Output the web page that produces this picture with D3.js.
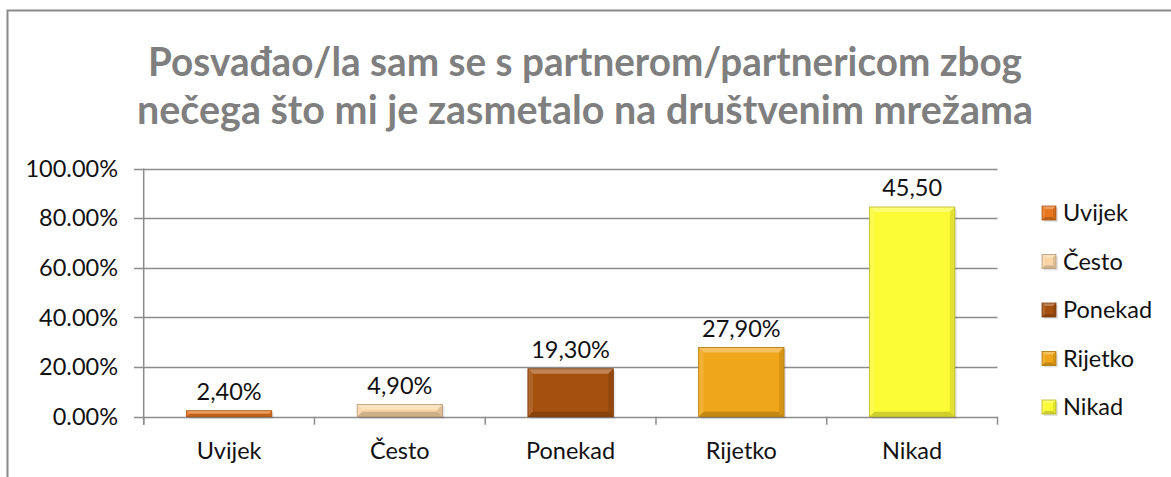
<!DOCTYPE html>
<html>
<head>
<meta charset="utf-8">
<script src="https://d3js.org/d3.v7.min.js"></script>
<style>
  body { margin: 0; background: #fff; }
  svg { display: block; font-family: Lato, "Open Sans", sans-serif; }
</style>
</head>
<body>
<div id="chart"></div>
<script>
const categories = ["Uvijek", "Često", "Ponekad", "Rijetko", "Nikad"];
const values = [2.4, 4.9, 19.3, 27.9, 84.5];
const labels = ["2,40%", "4,90%", "19,30%", "27,90%", "45,50"];
const colors = ["#E8761F", "#F9D5A6", "#A5500F", "#EFA619", "#FCFC36"];
const yTicks = [0, 20, 40, 60, 80, 100];
const titleLines = [
  "Posvađao/la sam se s partnerom/partnericom zbog",
  "nečega što mi je zasmetalo na društvenim mrežama"
];

const W = 1171, H = 477;
const svg = d3.select("#chart").append("svg")
  .attr("width", W)
  .attr("height", H);

// outer frame (only top + left visible in the picture)
svg.append("path")
  .attr("d", `M7.5,${H} V10.5 H${W}`)
  .attr("fill", "none")
  .attr("stroke", "#8a8a8a")
  .attr("stroke-width", 2);

// title: Calibri-like narrow look, so squeeze a larger font to the measured widths
const titleWidths = [874, 896];
const titleY = [62, 110];
titleLines.forEach((t, i) => {
  svg.append("text")
    .attr("x", 585)
    .attr("y", titleY[i])
    .attr("dy", "0.36em")
    .attr("text-anchor", "middle")
    .attr("fill", "#7f7f7f")
    .attr("font-weight", "bold")
    .attr("font-size", 40)
    .attr("textLength", titleWidths[i])
    .attr("lengthAdjust", "spacingAndGlyphs")
    .text(t);
});

const x = d3.scaleBand().domain(categories).range([143.7, 997.5]).paddingInner(0.5).paddingOuter(0.25);
const y = d3.scaleLinear().domain([0, 100]).range([416.7, 168.5]);
const fs = 23.5;

// gridlines
svg.append("g")
  .selectAll("line")
  .data(yTicks)
  .join("line")
  .attr("x1", 134).attr("x2", 997.5)
  .attr("y1", d => Math.round(y(d)) + 0.5)
  .attr("y2", d => Math.round(y(d)) + 0.5)
  .attr("stroke", "#8c8c8c")
  .attr("stroke-width", 1.5);

// y axis line
svg.append("line")
  .attr("x1", 143.7).attr("x2", 143.7)
  .attr("y1", y(100)).attr("y2", y(0) + 8)
  .attr("stroke", "#8c8c8c").attr("stroke-width", 1.5);

// y tick labels
svg.append("g")
  .selectAll("text")
  .data(yTicks)
  .join("text")
  .attr("x", 118)
  .attr("y", d => y(d))
  .attr("dy", "0.35em")
  .attr("text-anchor", "end")
  .attr("font-size", fs)
  .attr("fill", "#111")
  .text(d => d3.format(".2f")(d) + "%");

// category ticks
const step = x.step();
const bounds = d3.range(categories.length + 1).map(i => 143.7 + i * step);
svg.append("g")
  .selectAll("line")
  .data(bounds)
  .join("line")
  .attr("x1", d => d).attr("x2", d => d)
  .attr("y1", y(0)).attr("y2", y(0) + 8)
  .attr("stroke", "#8c8c8c").attr("stroke-width", 1.5);

// category labels
svg.append("g")
  .selectAll("text")
  .data(categories)
  .join("text")
  .attr("x", d => x(d) + x.bandwidth() / 2)
  .attr("y", 451)
  .attr("dy", "0.35em")
  .attr("text-anchor", "middle")
  .attr("font-size", fs)
  .attr("fill", "#111")
  .text(d => d);

// bevelled bar helper
function bevel(g, x0, y0, w, h, c, b0) {
  const b = Math.min(b0, h / 2, w / 2);
  const base = d3.color(c);
  g.append("rect").attr("x", x0 + 2).attr("y", y0 + 2).attr("width", w).attr("height", h)
    .attr("fill", "#000").attr("opacity", 0.1);
  g.append("rect").attr("x", x0).attr("y", y0).attr("width", w).attr("height", h).attr("fill", c);
  const x1 = x0 + w, y1 = y0 + h;
  const poly = (pts, col) => g.append("polygon").attr("points", pts.map(p => p.join(",")).join(" ")).attr("fill", col);
  poly([[x0, y0], [x1, y0], [x1 - b, y0 + b], [x0 + b, y0 + b]], d3.interpolateRgb(c, "#fff")(0.3));
  poly([[x0, y0], [x0 + b, y0 + b], [x0 + b, y1 - b], [x0, y1]], d3.interpolateRgb(c, "#fff")(0.12));
  poly([[x1, y0], [x1, y1], [x1 - b, y1 - b], [x1 - b, y0 + b]], base.darker(0.3));
  poly([[x0, y1], [x0 + b, y1 - b], [x1 - b, y1 - b], [x1, y1]], base.darker(0.55));
  g.append("rect").attr("x", x0).attr("y", y0).attr("width", w).attr("height", h)
    .attr("fill", "none").attr("stroke", base.darker(0.9)).attr("stroke-width", 0.8);
}

const bars = svg.append("g");
categories.forEach((cat, i) => {
  const x0 = x(cat), y0 = y(values[i]);
  bevel(bars, x0, y0, x.bandwidth(), y(0) - y0, colors[i], 5);
});

// data labels
svg.append("g")
  .selectAll("text")
  .data(categories)
  .join("text")
  .attr("x", d => x(d) + x.bandwidth() / 2)
  .attr("y", (d, i) => y(values[i]) - 19)
  .attr("dy", "0.35em")
  .attr("text-anchor", "middle")
  .attr("font-size", fs)
  .attr("fill", "#111")
  .text((d, i) => labels[i]);

// legend
const legend = svg.append("g")
  .selectAll("g")
  .data(categories)
  .join("g")
  .attr("transform", (d, i) => `translate(1042, ${213 + i * 48.5})`);
legend.each(function(d, i) {
  bevel(d3.select(this), 0, -7, 14, 14, colors[i], 3);
});
legend.append("text")
  .attr("x", 21)
  .attr("y", 0)
  .attr("dy", "0.35em")
  .attr("font-size", fs)
  .attr("fill", "#111")
  .text(d => d);
</script>
</body>
</html>
